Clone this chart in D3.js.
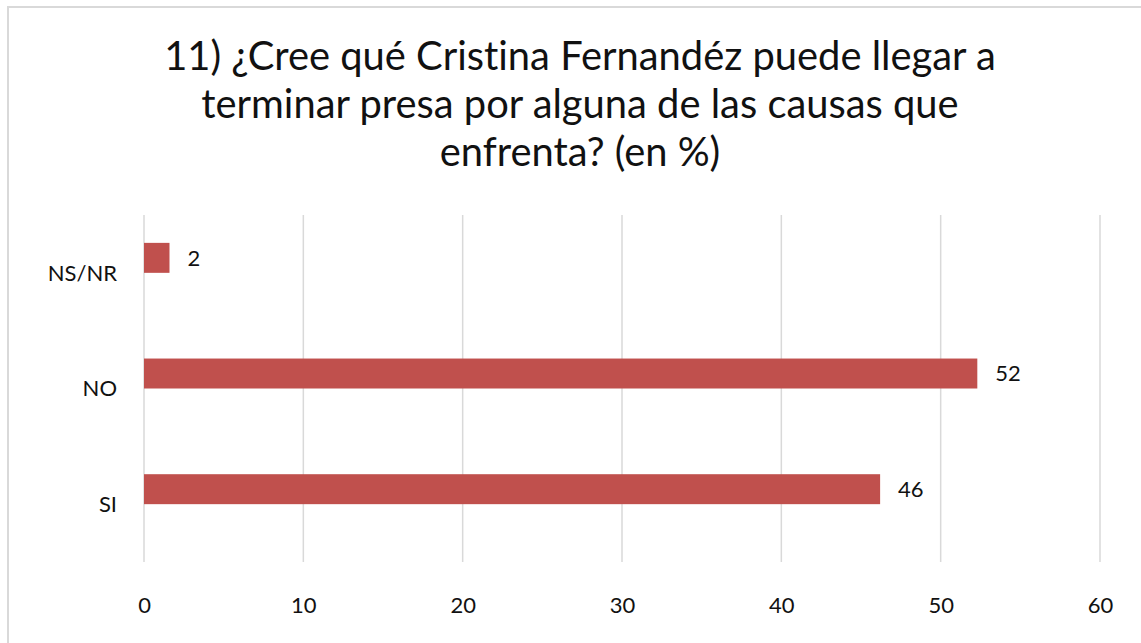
<!DOCTYPE html>
<html>
<head>
<meta charset="utf-8">
<script src="https://cdn.jsdelivr.net/npm/d3@7"></script>
<style>
  body { margin: 0; background: #fff; }
  text {
    font-family: Lato, "Open Sans", sans-serif;
    fill: #111;
    font-variant-ligatures: none;
    font-feature-settings: "liga" 0, "clig" 0, "dlig" 0;
  }
</style>
</head>
<body>
<div id="chart"></div>
<script>
// Chart data
var categories = ["NS/NR", "NO", "SI"];
var values = [1.6, 52.3, 46.2];
var xTicks = [0, 10, 20, 30, 40, 50, 60];
var titleLines = [
  "11) ¿Cree qué Cristina Fernandéz puede llegar a",
  "terminar presa por alguna de las causas que",
  "enfrenta? (en %)"
];

var svgWidth = 1141;
var svgHeight = 643;
var margin = { top: 215, right: 41, bottom: 81, left: 144 };
var width = svgWidth - margin.left - margin.right;
var height = svgHeight - margin.top - margin.bottom;

var svg = d3.select("#chart")
  .append("svg")
  .attr("width", svgWidth)
  .attr("height", svgHeight);

// chart frame (only top and left edges are visible)
svg.append("rect")
  .attr("x", 8)
  .attr("y", 7)
  .attr("width", svgWidth + 20)
  .attr("height", svgHeight + 20)
  .attr("fill", "none")
  .attr("stroke", "#d9d9d9")
  .attr("stroke-width", 2);

// Title
var title = svg.append("g");
titleLines.forEach(function(line, i) {
  title.append("text")
    .attr("x", 580)
    .attr("y", 70 + i * 48)
    .attr("text-anchor", "middle")
    .style("font-size", "36px")
    .text(line);
});
// fit title to the reference width of the first line
var firstLine = title.select("text").node();
var fs = 36 * 832 / firstLine.getComputedTextLength();
title.selectAll("text").style("font-size", fs + "px");

var chartGroup = svg.append("g")
  .attr("transform", `translate(${margin.left}, ${margin.top})`);

var x = d3.scaleLinear()
  .domain([0, 60])
  .range([0, width]);

var y = d3.scaleBand()
  .domain(categories)
  .range([0, height]);

// two slots per category, only the first one is filled
var slot = d3.scaleBand()
  .domain(["pct", "blank"])
  .range([0, y.bandwidth()])
  .paddingOuter(0.93);

// gridlines
chartGroup.append("g")
  .selectAll("line")
  .data(xTicks)
  .enter()
  .append("line")
  .attr("x1", d => x(d))
  .attr("x2", d => x(d))
  .attr("y1", 0)
  .attr("y2", height)
  .attr("stroke", "#d9d9d9")
  .attr("stroke-width", 1.5);

// x axis labels
var bottomAxis = d3.axisBottom(x).tickValues(xTicks).tickSize(0).tickPadding(0);
var xAxis = chartGroup.append("g")
  .attr("transform", `translate(0, ${height})`)
  .call(bottomAxis);
xAxis.select(".domain").remove();
xAxis.selectAll("text")
  .attr("y", 51)
  .attr("dy", 0)
  .style("font-size", "22px")
  .style("font-family", "Lato, sans-serif")
  .attr("fill", "#111");

// y axis labels
var leftAxis = d3.axisLeft(y).tickSize(0).tickPadding(27);
var yAxis = chartGroup.append("g").call(leftAxis);
yAxis.select(".domain").remove();
yAxis.selectAll("text")
  .attr("dy", "0.35em")
  .style("font-size", "22px")
  .style("font-family", "Lato, sans-serif")
  .attr("fill", "#111");

// bars
chartGroup.selectAll(".bar")
  .data(values)
  .enter()
  .append("rect")
  .attr("class", "bar")
  .attr("x", x(0))
  .attr("y", (d, i) => y(categories[i]) + slot("pct"))
  .attr("width", d => x(d) - x(0))
  .attr("height", slot.bandwidth())
  .attr("fill", "#c0504d");

// value labels
chartGroup.selectAll(".label")
  .data(values)
  .enter()
  .append("text")
  .attr("class", "label")
  .attr("x", d => x(d) + 18)
  .attr("y", (d, i) => y(categories[i]) + slot("pct") + slot.bandwidth() / 2)
  .attr("dy", "0.35em")
  .style("font-size", "22px")
  .text(d => Math.round(d));
</script>
</body>
</html>
